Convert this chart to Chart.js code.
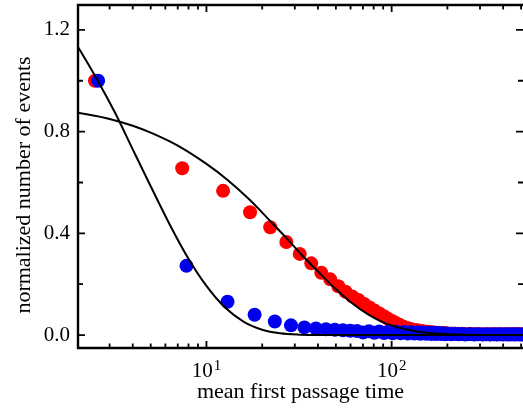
<!DOCTYPE html>
<html>
<head>
<meta charset="utf-8">
<script src="https://cdn.jsdelivr.net/npm/chart.js@4.4.0/dist/chart.umd.min.js"></script>
<style>
  html, body { margin: 0; padding: 0; overflow: hidden; background: #fff; }
  canvas { display: block; }
</style>
</head>
<body>
<canvas id="chart" width="523" height="412"></canvas>
<script>
// red points
const redX = [2.5, 7.4, 12.3, 17.2, 22.1, 27.0, 31.9, 36.8, 41.7, 46.6, 51.5, 56.4, 61.3, 66.2, 71.1,
  76.0, 80.9, 85.8, 90.7, 95.6, 100.5, 105.4, 110.3, 115.2, 120.1, 125.0, 129.9, 134.8, 139.7, 144.6,
  149.5, 154.4, 159.3, 164.2, 169.1, 174.0, 178.9, 183.8, 188.7, 193.6, 198.5, 210, 220, 230, 240,
  250, 265, 280, 295, 310, 325, 340, 355, 370, 385, 400, 415, 430, 445, 460, 475, 490, 505];
const redY = [1.0, 0.656, 0.567, 0.483, 0.424, 0.366, 0.319, 0.282, 0.245, 0.219, 0.192, 0.170, 0.152, 0.138, 0.122,
  0.108, 0.096, 0.085, 0.074, 0.064, 0.055, 0.047, 0.040, 0.034, 0.029, 0.025, 0.022, 0.020, 0.018, 0.016,
  0.014, 0.013, 0.012, 0.011, 0.010, 0.009, 0.008, 0.008, 0.007, 0.007, 0.006, 0.006, 0.005, 0.005, 0.005,
  0.004, 0.004, 0.004, 0.004, 0.003, 0.003, 0.003, 0.003, 0.003, 0.003, 0.003, 0.003, 0.003, 0.003, 0.003, 0.003, 0.003, 0.003];

// blue points
const blueX = [2.6, 7.8, 13.0, 18.2, 23.4, 28.6, 33.8, 39.0, 44.2, 49.4, 54.6, 59.8, 65.0, 70.2, 75.4,
  80.6, 85.8, 91.0, 96.2, 101.4, 106.6, 111.8, 117.0, 122.2, 127.4, 132.6, 137.8, 143.0, 148.2, 153.4,
  158.6, 163.8, 169.0, 174.2, 179.4, 184.6, 189.8, 195.0, 200.2, 210, 220, 230, 240,
  250, 265, 280, 295, 310, 325, 340, 355, 370, 385, 400, 415, 430, 445, 460, 475, 490, 505];
const blueY = [1.0, 0.272, 0.131, 0.080, 0.053, 0.038, 0.030, 0.026, 0.023, 0.021, 0.019, 0.017, 0.016, 0.010, 0.015,
  0.009, 0.014, 0.008, 0.014, 0.007, 0.013, 0.007, 0.012, 0.006, 0.011, 0.006, 0.011, 0.005, 0.010, 0.005,
  0.009, 0.004, 0.009, 0.004, 0.008, 0.004, 0.007, 0.003, 0.006, 0.003, 0.005, 0.003, 0.004,
  0.002, 0.004, 0.002, 0.003, 0.002, 0.003, 0.002, 0.003, 0.002, 0.003, 0.002, 0.003, 0.002, 0.003, 0.002, 0.003, 0.002, 0.002];

// fitted curves (black)
const fitRedX = [2, 3, 4, 5, 7, 10, 13, 17, 22, 27, 33, 40, 50, 60, 75, 90, 100, 110, 140, 180, 250, 350, 520];
const fitRedY = [0.875, 0.85, 0.823, 0.796, 0.745, 0.673, 0.61, 0.534, 0.45, 0.382, 0.312, 0.25, 0.18, 0.13, 0.08, 0.05, 0.038, 0.029, 0.013, 0.005, 0.001, 0, 0];
const fitBlueX = [2, 2.5, 3.2, 4, 5, 6.3, 8, 10, 12.6, 16, 20, 25, 32, 40, 520];
const fitBlueY = [1.14, 1.02, 0.876, 0.73, 0.585, 0.438, 0.30, 0.193, 0.108, 0.051, 0.021, 0.007, 0.0015, 0, 0];

// axes
const xMajor = [10, 100];
const xExp = ["1", "2"];
const xMinor = [3, 4, 5, 6, 7, 8, 9, 20, 30, 40, 50, 60, 70, 80, 90, 200, 300, 400, 500];
const yMajor = [0, 0.4, 0.8, 1.2];
const yMinor = [0.2, 0.6, 1.0];
const xTitle = "mean first passage time";
const yTitle = "normalized number of events";

const FONT = "Liberation Serif";

function toPoints(xs, ys) {
  return xs.map((x, i) => ({ x: x, y: ys[i] }));
}

const frame = {
  id: "frame",
  afterDraw(chart) {
    const { ctx, chartArea: a, scales: { x, y } } = chart;
    ctx.save();
    ctx.strokeStyle = "#000";
    ctx.lineCap = "square";
    ctx.lineWidth = 2.4;
    // left, top and bottom lines; the right one falls off the canvas
    ctx.beginPath();
    ctx.moveTo(a.right, a.top);
    ctx.lineTo(a.left, a.top);
    ctx.lineTo(a.left, a.bottom);
    ctx.lineTo(a.right, a.bottom);
    ctx.stroke();

    ctx.lineCap = "butt";
    ctx.lineWidth = 1.8;
    ctx.beginPath();
    const xt = (v, len) => {
      const px = x.getPixelForValue(v);
      ctx.moveTo(px, a.bottom);
      ctx.lineTo(px, a.bottom - len);
      ctx.moveTo(px, a.top);
      ctx.lineTo(px, a.top + len);
    };
    const yt = (v, len) => {
      const py = y.getPixelForValue(v);
      ctx.moveTo(a.left, py);
      ctx.lineTo(a.left + len, py);
      ctx.moveTo(a.right, py);
      ctx.lineTo(a.right - len, py);
    };
    xMajor.forEach(v => xt(v, 7));
    xMinor.forEach(v => xt(v, 4.5));
    yMajor.forEach(v => yt(v, 7));
    yMinor.forEach(v => yt(v, 5));
    ctx.stroke();

    ctx.fillStyle = "#000";
    // y tick labels
    ctx.font = "21px '" + FONT + "'";
    ctx.textAlign = "right";
    ctx.textBaseline = "middle";
    yMajor.forEach(v => ctx.fillText(v.toFixed(1), a.left - 8, y.getPixelForValue(v)));

    // x tick labels with exponent
    ctx.textBaseline = "alphabetic";
    ctx.textAlign = "left";
    xMajor.forEach((v, i) => {
      const px = x.getPixelForValue(v);
      ctx.font = "21px '" + FONT + "'";
      const w = ctx.measureText("10").width;
      ctx.font = "15px '" + FONT + "'";
      const e = ctx.measureText(xExp[i]).width;
      const start = px - (w + 1 + e) / 2;
      ctx.font = "21px '" + FONT + "'";
      ctx.fillText("10", start, 377);
      ctx.font = "15px '" + FONT + "'";
      ctx.fillText(xExp[i], start + w + 1, 370);
    });

    // axis titles
    ctx.font = "22px '" + FONT + "'";
    ctx.textAlign = "center";
    ctx.fillText(xTitle, 300.5, 398);
    ctx.translate(30, 185);
    ctx.rotate(-Math.PI / 2);
    ctx.fillText(yTitle, 0, 0);
    ctx.restore();
  }
};

new Chart(document.getElementById("chart"), {
  type: "scatter",
  data: {
    datasets: [
      {
        type: "line",
        label: "fit red",
        data: toPoints(fitRedX, fitRedY),
        borderColor: "#000",
        borderWidth: 2,
        pointRadius: 0,
        fill: false,
        cubicInterpolationMode: "monotone",
      },
      {
        type: "line",
        label: "fit blue",
        data: toPoints(fitBlueX, fitBlueY),
        borderColor: "#000",
        borderWidth: 2,
        pointRadius: 0,
        fill: false,
        cubicInterpolationMode: "monotone",
      },
      {
        label: "blue",
        data: toPoints(blueX, blueY),
        pointBackgroundColor: "#0000ee",
        pointBorderWidth: 0,
        pointRadius: 7,
      },
      {
        label: "red",
        data: toPoints(redX, redY),
        pointBackgroundColor: "#ff0000",
        pointBorderWidth: 0,
        pointRadius: 7,
      },
    ],
  },
  options: {
    responsive: false,
    animation: false,
    devicePixelRatio: 1,
    layout: { autoPadding: false, padding: { left: 78, top: 5, right: -2, bottom: 64 } },
    plugins: { legend: { display: false }, tooltip: { enabled: false } },
    scales: {
      x: { type: "logarithmic", min: 2.025, max: 512, display: false },
      y: { type: "linear", min: -0.051, max: 1.298, display: false },
    },
  },
  plugins: [frame],
});
</script>
</body>
</html>
